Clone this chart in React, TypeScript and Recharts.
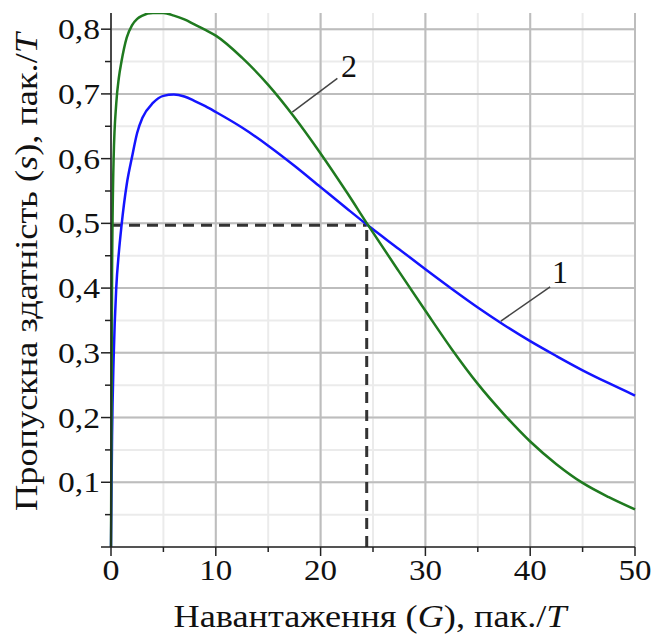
import {
  CartesianGrid,
  Line,
  LineChart,
  ReferenceDot,
  ReferenceLine,
  XAxis,
  YAxis,
} from "recharts";

// load G (пак./T)
const LOAD = [
  0, 0.1, 0.25, 0.5, 0.75, 1, 1.5, 2, 2.5, 3, 4, 5, 6, 7, 8, 9, 10, 12.5, 15, 17.5, 20, 22.5, 24.5, 27.5, 30,
  32.5, 35, 37.5, 40, 42.5, 45, 47.5, 50,
];
// curve 1 (blue)
const CURVE_1 = [
  0, 0.17, 0.29, 0.4, 0.455, 0.496, 0.56, 0.602, 0.64, 0.663, 0.686, 0.697, 0.699, 0.696, 0.689, 0.681, 0.672,
  0.648, 0.62, 0.589, 0.556, 0.523, 0.497, 0.46, 0.429, 0.399, 0.37, 0.343, 0.318, 0.295, 0.273, 0.253, 0.234,
];
// curve 2 (green)
const CURVE_2 = [
  0, 0.42, 0.6, 0.685, 0.725, 0.75, 0.787, 0.806, 0.816, 0.821, 0.825, 0.825, 0.821, 0.815, 0.807, 0.799, 0.79,
  0.756, 0.714, 0.664, 0.608, 0.548, 0.498, 0.425, 0.365, 0.306, 0.252, 0.205, 0.163, 0.128, 0.099, 0.077, 0.058,
];

const X_TICKS = [0, 5, 10, 15, 20, 25, 30, 35, 40, 45, 50];
const X_MAJOR = [0, 10, 20, 30, 40, 50];
const Y_TICKS = [0, 0.05, 0.1, 0.15, 0.2, 0.25, 0.3, 0.35, 0.4, 0.45, 0.5, 0.55, 0.6, 0.65, 0.7, 0.75, 0.8];
const Y_MAJOR = [0.1, 0.2, 0.3, 0.4, 0.5, 0.6, 0.7, 0.8];

// equal-throughput point (dashed guides)
const CROSS_G = 24.4;
const CROSS_S = 0.497;

// curve callouts: label, label point, leader start (on curve), leader end
const CALLOUTS = [
  { text: "1", g: 42.85, s: 0.425, from: [37.2, 0.349], to: [41.9, 0.402] },
  { text: "2", g: 22.7, s: 0.744, from: [17.3, 0.672], to: [21.6, 0.724] },
];

const data = LOAD.map((g, i) => ({ g, s1: CURVE_1[i], s2: CURVE_2[i] }));

const FONT = "'Liberation Serif', 'Times New Roman', serif";
const AXIS = "#222";

const isMajorX = (v: number) => X_MAJOR.includes(v);
const isMajorY = (v: number) => Y_MAJOR.some((m) => Math.abs(m - v) < 1e-6);

function XTick(props: any) {
  const { x, y, payload } = props;
  const v = payload.value;
  const major = isMajorX(v);
  const label = String(v);
  return (
    <g>
      <line x1={x} x2={x} y1={y} y2={y + (major ? 9 : 5)} stroke={AXIS} strokeWidth={1.5} />
      {major && (
        <text
          x={x}
          y={y + 33}
          textAnchor="middle"
          textLength={label.length > 1 ? 33 : 17}
          lengthAdjust="spacingAndGlyphs"
          style={{ fontFamily: FONT, fontSize: 30 }}
          fill="#111"
        >
          {label}
        </text>
      )}
    </g>
  );
}

function YTick(props: any) {
  const { x, y, payload } = props;
  const v = payload.value;
  const major = isMajorY(v) || v === 0;
  return (
    <g>
      <line x1={x} x2={x - (major ? 10 : 6)} y1={y} y2={y} stroke={AXIS} strokeWidth={1.5} />
      {isMajorY(v) && (
        <text
          x={x - 11}
          y={y + 10}
          textAnchor="end"
          textLength={42}
          lengthAdjust="spacingAndGlyphs"
          style={{ fontFamily: FONT, fontSize: 30 }}
          fill="#111"
        >
          {v.toFixed(1).replace(".", ",")}
        </text>
      )}
    </g>
  );
}

export default function App() {
  return (
    <div style={{ position: "fixed", left: 0, top: 0, background: "#fff" }}>
      <LineChart width={653} height={637} data={data} margin={{ top: 13, right: 18, left: 0, bottom: 0 }}>
        <CartesianGrid
          stroke="#ebebeb"
          strokeWidth={2}
          horizontalValues={Y_TICKS}
          verticalValues={X_TICKS}
        />
        <CartesianGrid
          stroke="#bdbdbd"
          strokeWidth={2}
          horizontalValues={Y_MAJOR}
          verticalValues={X_MAJOR}
        />
        <XAxis
          dataKey="g"
          type="number"
          domain={[0, 50]}
          ticks={X_TICKS}
          interval={0}
          height={90}
          tickSize={0}
          tickMargin={0}
          tickLine={false}
          axisLine={{ stroke: AXIS, strokeWidth: 1.5 }}
          tick={<XTick />}
          label={{
            content: (p: any) => {
              const vb = p.viewBox;
              return (
                <text
                  x={vb.x + vb.width / 2 - 3}
                  y={vb.y + 80}
                  textAnchor="middle"
                  textLength={393}
                  lengthAdjust="spacingAndGlyphs"
                  style={{ fontFamily: FONT, fontSize: 31 }}
                  fill="#111"
                >
                  Навантаження (<tspan fontStyle="italic">G</tspan>), пак./<tspan fontStyle="italic">T</tspan>
                </text>
              );
            },
          }}
        />
        <YAxis
          type="number"
          domain={[0, 0.825]}
          allowDataOverflow
          ticks={Y_TICKS}
          interval={0}
          width={111}
          tickSize={0}
          tickMargin={0}
          tickLine={false}
          axisLine={{ stroke: AXIS, strokeWidth: 1.5 }}
          tick={<YTick />}
          label={{
            content: (p: any) => {
              const vb = p.viewBox;
              const cx = 37;
              const cy = vb.y + vb.height / 2 - 8;
              return (
                <text
                  x={cx}
                  y={cy}
                  transform={`rotate(-90 ${cx} ${cy})`}
                  textAnchor="middle"
                  textLength={478}
                  lengthAdjust="spacingAndGlyphs"
                  style={{ fontFamily: FONT, fontSize: 31 }}
                  fill="#111"
                >
                  Пропускна здатність (<tspan fontStyle="italic">s</tspan>), пак./<tspan fontStyle="italic">T</tspan>
                </text>
              );
            },
          }}
        />
        <ReferenceLine
          segment={[
            { x: 0, y: CROSS_S },
            { x: CROSS_G, y: CROSS_S },
          ]}
          stroke="#333"
          strokeWidth={3}
          strokeDasharray="11 7"
        />
        <ReferenceLine
          segment={[
            { x: CROSS_G, y: 0 },
            { x: CROSS_G, y: CROSS_S },
          ]}
          stroke="#333"
          strokeWidth={3}
          strokeDasharray="11 7"
        />
        <Line
          dataKey="s1"
          type="monotone"
          stroke="#1414ff"
          strokeWidth={2.5}
          dot={false}
          isAnimationActive={false}
        />
        <Line
          dataKey="s2"
          type="monotone"
          stroke="#1f7a1f"
          strokeWidth={2.5}
          dot={false}
          isAnimationActive={false}
        />
        {CALLOUTS.map((c) => (
          <ReferenceLine
            key={`lead-${c.text}`}
            segment={[
              { x: c.from[0], y: c.from[1] },
              { x: c.to[0], y: c.to[1] },
            ]}
            stroke="#444"
            strokeWidth={1.5}
          />
        ))}
        {CALLOUTS.map((c) => (
          <ReferenceDot
            key={`lab-${c.text}`}
            x={c.g}
            y={c.s}
            r={0}
            fill="none"
            stroke="none"
            label={{ value: c.text, position: "center", fontFamily: FONT, fontSize: 32, fill: "#111" }}
          />
        ))}
      </LineChart>
    </div>
  );
}
